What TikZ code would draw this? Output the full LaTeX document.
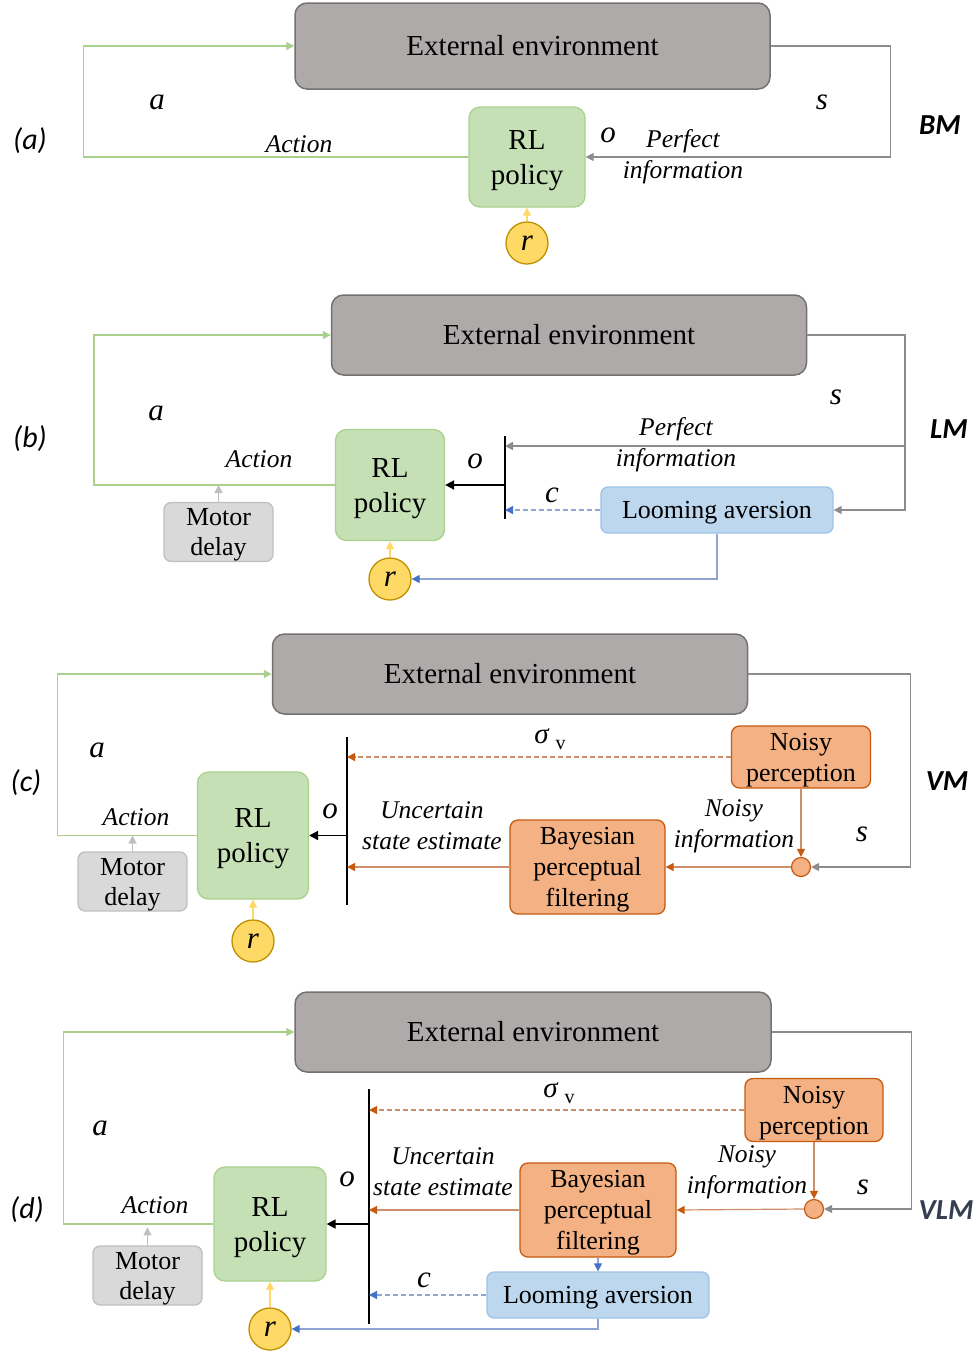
\documentclass[tikz,border=0pt]{standalone}
\usepackage{fontspec}
\setmainfont{Liberation Serif}
\newfontfamily\calib{Carlito}
\usetikzlibrary{arrows.meta,calc}
\newcommand{\pstr}{\rule[-0.22em]{0pt}{1.11em}}
\definecolor{envfill}{HTML}{AEAAAA}
\definecolor{envdraw}{HTML}{757171}
\definecolor{rlfill}{HTML}{C5E0B4}
\definecolor{rldraw}{HTML}{A9D18E}
\definecolor{mdfill}{HTML}{D9D9D9}
\definecolor{mddraw}{HTML}{BFBFBF}
\definecolor{rfill}{HTML}{FFD966}
\definecolor{rdraw}{HTML}{BF9000}
\definecolor{lafill}{HTML}{BDD7EE}
\definecolor{ladraw}{HTML}{9DC3E6}
\definecolor{blueln}{HTML}{4472C4}
\definecolor{bluelt}{HTML}{8FA6D2}
\definecolor{orfill}{HTML}{F4B183}
\definecolor{ordraw}{HTML}{C55A11}
\definecolor{orline}{HTML}{CE8E6A}
\definecolor{grayln}{HTML}{8C8C8C}
\definecolor{vlmcol}{HTML}{333F50}
\tikzset{
 env/.style={draw=envdraw, line width=1.5pt, fill=envfill, rounded corners=12pt, minimum width=475pt, minimum height=80pt, inner sep=0pt, font=\fontsize{29}{32}\selectfont},
 rlbox/.style={draw=rldraw, line width=1.3pt, fill=rlfill, rounded corners=11pt, align=center, inner sep=0pt, font=\fontsize{29}{35}\selectfont},
 mdbox/.style={draw=mddraw, line width=1.3pt, fill=mdfill, rounded corners=7pt, minimum width=109pt, minimum height=57pt, align=center, inner sep=0pt, font=\fontsize{26}{30}\selectfont},
 rnode/.style={circle, draw=rdraw, line width=1.3pt, fill=rfill, minimum size=42pt, inner sep=0pt, font=\fontsize{31}{31}\selectfont\itshape},
 labox/.style={draw=ladraw, line width=1.3pt, fill=lafill, rounded corners=7pt, minimum height=46pt, inner sep=0pt, font=\fontsize{26}{30}\selectfont},
 orbox/.style={draw=ordraw, line width=1.3pt, fill=orfill, rounded corners=8pt, align=center, inner sep=0pt, font=\fontsize{26}{31}\selectfont},
 sumnode/.style={circle, draw=ordraw, line width=1.2pt, fill=orfill, minimum size=19pt, inner sep=0pt},
 lbl/.style={font=\fontsize{25.5}{31}\selectfont\itshape, align=center, inner sep=0pt},
 varl/.style={font=\fontsize{31}{31}\selectfont\itshape, inner sep=0pt},
 tagl/.style={font=\calib\fontsize{30}{30}\selectfont\itshape, inner sep=0pt},
 modell/.style={font=\calib\fontsize{29}{30}\selectfont\bfseries\itshape, inner sep=0pt},
 arrtip/.style={-{Triangle[length=8pt,width=8pt]}},
 greenln/.style={draw=rldraw, line width=1.3pt, arrtip},
 grayarr/.style={draw=grayln, line width=1.3pt, arrtip},
 mdarr/.style={draw=mddraw, line width=1.3pt, arrtip},
 rarr/.style={draw=rfill, line width=1.3pt, arrtip},
 blkarr/.style={draw=black, line width=1.8pt, -{Triangle[length=9pt,width=9pt]}},
 orarr/.style={draw=orline, line width=1.2pt, -{Triangle[length=8pt,width=8pt,color=ordraw]}},
 ordash/.style={draw=orline, line width=1.2pt, dash pattern=on 5pt off 3pt, -{Triangle[length=8pt,width=8pt,color=ordraw]}},
 bluedash/.style={draw=bluelt, line width=1.3pt, dash pattern=on 5pt off 3pt, -{Triangle[length=8pt,width=8pt,color=blueln]}},
 bluearr/.style={draw=bluelt, line width=1.3pt, -{Triangle[length=8pt,width=8pt,color=blueln]}},
 barln/.style={draw=black, line width=1.7pt},
}
\begin{document}
\begin{tikzpicture}[x=1pt,y=-1pt]
\useasboundingbox (0,0) rectangle (978,1353);

% ---------------- (a) ----------------
\node[env, minimum height=86pt] (envA) at (532.5,46) {\pstr External environment};
\node[rlbox, minimum width=116pt, minimum height=100pt] (rlA) at (527,157) {\pstr RL\\\pstr policy};
\node[rnode] (rA) at (527,243) {r};
\draw[greenln] (rlA.west) -- ++(-385,0) |- (envA.west);
\draw[grayarr] (envA.east) -- ++(120,0) |- (rlA.east);
\draw[rarr] (rA.north) -- (rlA.south);
\node[varl] (aA) at (157,102) {a};
\node[varl] (sA) at (822,102) {s};
\node[varl] (oA) at (608,135) {o};
\node[lbl] (actA) at (299,144) {Action};
\node[lbl] (piA) at (683,157) {Perfect\\information};
\node[tagl] (tagA) at (30,141) {(a)};
\node[modell] (mA) at (940,125) {BM};

% ---------------- (b) ----------------
\node[env] (envB) at (569,335) {\pstr External environment};
\node[rlbox, minimum width=109pt, minimum height=111pt] (rlB) at (390,485) {\pstr RL\\\pstr policy};
\node[mdbox] (mdB) at (218.5,532) {\pstr Motor\\\pstr delay};
\node[rnode] (rB) at (390,579) {r};
\node[labox, minimum width=232pt] (laB) at (717,510) {\pstr Looming aversion};
\coordinate (bBt) at (505,436);
\coordinate (bBb) at (505,519);
\coordinate (sB) at (905,446);
\draw[barln, line width=2pt] (bBt) -- (bBb);
\draw[greenln] (rlB.west) -- ++(-241,0) |- (envB.west);
\draw[mdarr] (mdB.north) -- (mdB.north |- rlB.west);
\draw[rarr] (rB.north) -- (rlB.south);
\draw[blkarr] (bBt |- rlB.east) -- (rlB.east);
\draw[grayarr] (envB.east) -- (envB.east -| sB) |- (laB.east);
\draw[grayarr, line width=1.7pt] (sB) -- (sB -| bBt);
\draw[bluedash] (laB.west) -- (laB.west -| bBt);
\draw[bluearr] (laB.south) |- (rB.east);
\node[varl] (aB) at (156,413) {a};
\node[varl] (sB2) at (836,397) {s};
\node[varl] (oB) at (475,461) {o};
\node[varl] (cB) at (552,495) {c};
\node[lbl] (actB) at (259,459) {Action};
\node[lbl] (piB) at (676,445) {Perfect\\information};
\node[tagl] (tagB) at (30,439) {(b)};
\node[modell] (mB) at (949,429) {LM};

% ---------------- (c) ----------------
\node[env] (envC) at (510,674) {\pstr External environment};
\node[rlbox, minimum width=111pt, minimum height=127pt] (rlC) at (253,835.5) {\pstr RL\\\pstr policy};
\node[mdbox] (mdC) at (132.5,881.5) {\pstr Motor\\\pstr delay};
\node[rnode] (rC) at (253,941) {r};
\node[orbox, minimum width=139pt, minimum height=62pt] (npC) at (801,757) {\pstr Noisy\\\pstr perception};
\node[orbox, minimum width=155pt, minimum height=94pt] (bpC) at (587.5,867) {\pstr Bayesian\\\pstr perceptual\\\pstr filtering};
\node[sumnode] (sumC) at (801,867) {};
\coordinate (bCt) at (347,737);
\coordinate (bCb) at (347,905);
\draw[barln] (bCt) -- (bCb);
\draw[greenln] (rlC.west) -- ++(-139.5,0) |- (envC.west);
\draw[mdarr] (mdC.north) -- (mdC.north |- rlC.west);
\draw[rarr] (rC.north) -- (rlC.south);
\draw[blkarr] (bCt |- rlC.east) -- (rlC.east);
\draw[ordash] (npC.west) -- (npC.west -| bCt);
\draw[orarr] (npC.south) -- (sumC.north);
\draw[grayarr] (envC.east) -- ++(162,0) |- (sumC.east);
\draw[orarr] (sumC.west) -- (bpC.east);
\draw[orarr] (bpC.west) -- (bpC.west -| bCt);
\node[varl] (aC) at (97,750) {a};
\node[varl] (sC) at (862,834) {s};
\node[varl] (oC) at (330,811) {o};
\node[lbl] (actC) at (136,817) {Action};
\node[lbl] (ueC) at (432,826) {Uncertain\\state estimate};
\node[lbl] (niC) at (734,826) {Noisy\\information};
\node[lbl, font=\fontsize{29}{29}\selectfont] (sgC) at (550,739) {\textit{σ}\hspace{6pt}\raisebox{-6pt}{\fontsize{20}{20}\selectfont v}};
\node[tagl] (tagC) at (26,783) {(c)};
\node[modell] (mC) at (947,781) {VM};

% ---------------- (d) ----------------
\node[env, minimum width=476pt] (envD) at (533,1032) {\pstr External environment};
\node[rlbox, minimum width=112pt, minimum height=114pt] (rlD) at (270,1224) {\pstr RL\\\pstr policy};
\node[mdbox] (mdD) at (147.5,1275.5) {\pstr Motor\\\pstr delay};
\node[rnode] (rD) at (270,1329) {r};
\node[orbox, minimum width=138pt, minimum height=63pt] (npD) at (814,1110) {\pstr Noisy\\\pstr perception};
\node[orbox, minimum width=156pt, minimum height=94pt] (bpD) at (598,1210) {\pstr Bayesian\\\pstr perceptual\\\pstr filtering};
\node[sumnode] (sumD) at (814,1209) {};
\node[labox, minimum width=222pt] (laD) at (598,1295) {\pstr Looming aversion};
\coordinate (bDt) at (369,1089);
\coordinate (bDb) at (369,1324);
\draw[barln] (bDt) -- (bDb);
\draw[greenln] (rlD.west) -- ++(-150,0) |- (envD.west);
\draw[mdarr] (mdD.north) -- ++(0,-18);
\draw[rarr] (rD.north) -- (rlD.south);
\draw[blkarr] (bDt |- rlD.east) -- (rlD.east);
\draw[ordash] (npD.west) -- (npD.west -| bDt);
\draw[orarr] (npD.south) -- (sumD.north);
\draw[grayarr] (envD.east) -- ++(140,0) |- (sumD.east);
\draw[orarr] (sumD.west) -- (bpD.east);
\draw[orarr] (bpD.west) -- (bpD.west -| bDt);
\draw[bluearr] (bpD.south) -- (laD.north);
\draw[bluedash] (laD.west) -- (laD.west -| bDt);
\draw[bluearr] (laD.south) |- (rD.east);
\node[varl] (aD) at (100,1128) {a};
\node[varl] (sD) at (863,1187) {s};
\node[varl] (oD) at (347,1179) {o};
\node[varl] (cD) at (424,1280) {c};
\node[lbl] (actD) at (155,1205) {Action};
\node[lbl] (ueD) at (443,1172) {Uncertain\\state estimate};
\node[lbl] (niD) at (747,1172) {Noisy\\information};
\node[lbl, font=\fontsize{29}{29}\selectfont] (sgD) at (559,1093) {\textit{σ}\hspace{6pt}\raisebox{-6pt}{\fontsize{20}{20}\selectfont v}};
\node[tagl] (tagD) at (27,1210) {(d)};
\node[modell, text=vlmcol] (mD) at (946,1210) {VLM};
\end{tikzpicture}
\end{document}
